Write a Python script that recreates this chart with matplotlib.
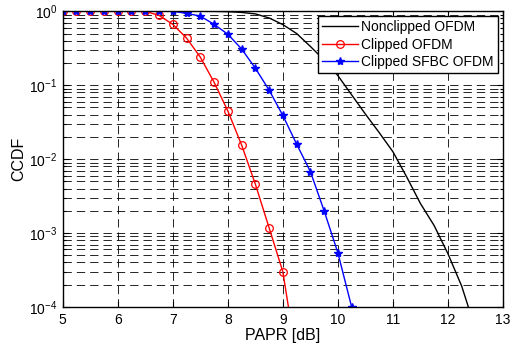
import matplotlib
matplotlib.use("Agg")
import matplotlib.pyplot as plt
from matplotlib.ticker import LogLocator, FixedLocator, NullFormatter

plt.rcParams['font.family'] = ['Liberation Sans', 'DejaVu Sans']
plt.rcParams['mathtext.default'] = 'regular'

# Data
x_black = [5.0, 5.25, 5.5, 5.75, 6.0, 6.25, 6.5, 6.75, 7.0, 7.25, 7.5, 7.75,
           8.0, 8.25, 8.5, 8.75, 9.0, 9.25, 9.5, 9.75, 10.0, 10.25, 10.5,
           10.75, 11.0, 11.25, 11.5, 11.75, 12.0, 12.25, 12.5]
y_black = [1, 1, 1, 1, 1, 1, 1, 1, 1, 1, 1, 0.998,
           0.989, 0.966, 0.923, 0.813, 0.661, 0.501, 0.335, 0.219, 0.135, 0.0741,
           0.0407, 0.0229, 0.0126, 0.00575, 0.00251, 0.00126, 0.000525, 0.000191, 5e-5]

x_red = [5.0, 5.25, 5.5, 5.75, 6.0, 6.25, 6.5, 6.75, 7.0, 7.25, 7.5, 7.75,
         8.0, 8.25, 8.5, 8.75, 9.0, 9.25]
y_red = [1, 1, 1, 1, 1, 1, 1, 0.88, 0.667, 0.435, 0.24, 0.11,
         0.045, 0.0156, 0.0046, 0.00118, 0.0003, 2e-5]

x_blue = [5.0, 5.25, 5.5, 5.75, 6.0, 6.25, 6.5, 6.75, 7.0, 7.25, 7.5, 7.75,
          8.0, 8.25, 8.5, 8.75, 9.0, 9.25, 9.5, 9.75, 10.0, 10.25]
y_blue = [1, 1, 1, 1, 1, 1, 1, 1, 1, 0.94, 0.86, 0.667,
          0.49, 0.31, 0.17, 0.086, 0.039, 0.016, 0.0068, 0.002, 0.00054, 1e-4]

labels = ['Nonclipped OFDM', 'Clipped OFDM', 'Clipped SFBC OFDM']
xticks = [5, 6, 7, 8, 9, 10, 11, 12, 13]

fig = plt.figure(figsize=(5.16, 3.47), dpi=100)
ax = fig.add_axes([0.1215, 0.1153, 0.9748 - 0.1215, 0.9674 - 0.1153])

ax.semilogy(x_black, y_black, color='black', lw=1.0, label=labels[0])
ax.semilogy(x_red, y_red, color='red', lw=1.0, marker='o', ms=5.5,
            mfc='none', mec='red', mew=0.9, label=labels[1])
ax.semilogy(x_blue, y_blue, color='blue', lw=1.0, marker='*', ms=6,
            mfc='blue', mec='blue', label=labels[2])

ax.set_xlim(5, 13)
ax.set_ylim(1e-4, 1)
ax.xaxis.set_major_locator(FixedLocator(xticks))
ax.yaxis.set_major_locator(LogLocator(base=10, numticks=10))
ax.yaxis.set_minor_locator(LogLocator(base=10, subs=range(2, 10), numticks=20))
ax.yaxis.set_minor_formatter(NullFormatter())

grid_kw = dict(color='black', lw=0.6, linestyle=(0, (10, 6)))
ax.grid(True, which='major', axis='both', **grid_kw)
ax.grid(True, which='minor', axis='y', **grid_kw)

ax.tick_params(which='both', direction='in', top=True, right=True,
               labelsize=10, width=0.8, color='black')
ax.tick_params(which='major', length=4, pad=4)
ax.tick_params(which='minor', length=2)
for s in ax.spines.values():
    s.set_linewidth(1.0)

ax.set_xlabel('PAPR [dB]', fontsize=11.5, labelpad=1)
ax.set_ylabel('CCDF', fontsize=11.5, labelpad=2)

leg = ax.legend(loc='upper right', fontsize=10, fancybox=False, framealpha=1,
                edgecolor='black', handlelength=2.6, labelspacing=0.25,
                borderaxespad=0.35, borderpad=0.3, handletextpad=0.25)
leg.get_frame().set_linewidth(1.0)

fig.savefig('out.png', dpi=100)
